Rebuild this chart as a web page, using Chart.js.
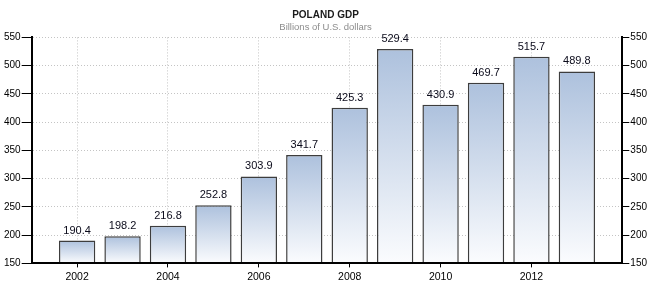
<!DOCTYPE html>
<html>
<head>
<meta charset="utf-8">
<title>Poland GDP</title>
<script src="https://cdn.jsdelivr.net/npm/chart.js@4.4.1/dist/chart.umd.min.js"></script>
<style>
  html, body { margin: 0; padding: 0; background: #fff; }
  #gdp-chart { display: block; }
</style>
</head>
<body>
<canvas id="gdp-chart" width="660" height="286"></canvas>
<script>
const YEARS = [2002, 2003, 2004, 2005, 2006, 2007, 2008, 2009, 2010, 2011, 2012, 2013]
const GDP = [190.4, 198.2, 216.8, 252.8, 303.9, 341.7, 425.3, 529.4, 430.9, 469.7, 515.7, 489.8]
const YEAR_TICKS = [2002, 2004, 2006, 2008, 2010, 2012]
const GDP_TICKS = [150, 200, 250, 300, 350, 400, 450, 500, 550]

const FONT = '"Liberation Sans", Arial, sans-serif'
const COLORS = {
  barTop: '#adc1dd',
  barBottom: '#fbfcfe',
  barBorder: '#3d3d3d',
  grid: '#c4c4c4',
  axis: '#000'
}

// vertical gradient for each bar, from its top down to the axis
function barFill (context) {
  const chart = context.chart
  if (!chart.chartArea || context.type !== 'data') return COLORS.barTop
  const y = chart.scales.y,
    top = y.getPixelForValue(context.parsed.y),
    bottom = y.getPixelForValue(y.min),
    gradient = chart.ctx.createLinearGradient(0, top, 0, bottom)
  gradient.addColorStop(0, COLORS.barTop)
  gradient.addColorStop(1, COLORS.barBottom)
  return gradient
}

// value written above every bar
const barLabels = {
  id: 'barLabels',
  afterDatasetsDraw (chart) {
    const ctx = chart.ctx,
      meta = chart.getDatasetMeta(0)
    ctx.save()
    ctx.font = `11px ${FONT}`
    ctx.fillStyle = '#0a0a1a'
    ctx.textAlign = 'center'
    ctx.textBaseline = 'alphabetic'
    meta.data.forEach((bar, i) => ctx.fillText(GDP[i].toFixed(1), bar.x, bar.y - 7))
    ctx.restore()
  }
}

function valueAxis (position, tickLength) {
  return {
    type: 'linear',
    position,
    min: GDP_TICKS[0],
    max: GDP_TICKS[GDP_TICKS.length - 1],
    afterBuildTicks: scale => { scale.ticks = GDP_TICKS.map(value => ({ value })) },
    grid: {
      color: COLORS.grid,
      drawOnChartArea: position === 'left',
      tickColor: COLORS.axis,
      tickLength,
      tickWidth: 1
    },
    border: { color: COLORS.axis, width: 2, dash: [1, 2], z: 1 },
    ticks: { color: '#000', padding: 1, font: { family: FONT, size: 10 } }
  }
}

new Chart(document.getElementById('gdp-chart'), {
  type: 'bar',
  data: {
    datasets: [{
      data: YEARS.map((year, i) => ({ x: year, y: GDP[i] })),
      backgroundColor: barFill,
      borderColor: COLORS.barBorder,
      borderWidth: 1.5,
      barPercentage: 0.8,
      categoryPercentage: 1
    }]
  },
  options: {
    responsive: false,
    animation: false,
    layout: { padding: { left: 3, right: 12, top: 0, bottom: 0 } },
    plugins: {
      legend: { display: false },
      tooltip: { enabled: false },
      title: {
        display: true,
        text: 'POLAND GDP',
        color: '#1a1a1a',
        font: { family: FONT, size: 10, weight: 'bold' },
        padding: { top: 9, bottom: 1 }
      },
      subtitle: {
        display: true,
        text: 'Billions of U.S. dollars',
        color: '#8c8c8c',
        font: { family: FONT, size: 9.5 },
        padding: { top: 0, bottom: 4 }
      }
    },
    scales: {
      x: {
        type: 'linear',
        offset: false,
        min: YEARS[0] - 1,
        max: YEARS[YEARS.length - 1] + 1,
        afterBuildTicks: scale => { scale.ticks = YEAR_TICKS.map(value => ({ value })) },
        grid: { offset: false, color: COLORS.grid, tickColor: COLORS.axis, tickLength: 4, tickWidth: 1 },
        border: { color: COLORS.axis, width: 2, dash: [1, 2], z: 1 },
        ticks: {
          color: '#000',
          padding: 3,
          maxRotation: 0,
          font: { family: FONT, size: 10.5 },
          callback: value => String(value)
        }
      },
      y: valueAxis('left', 10),
      y2: valueAxis('right', 7)
    }
  },
  plugins: [barLabels]
})
</script>
</body>
</html>
